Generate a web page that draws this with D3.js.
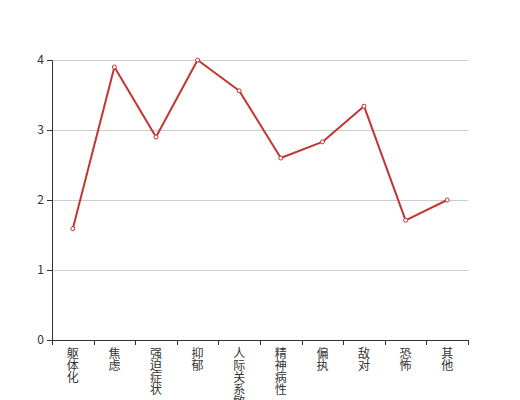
<!DOCTYPE html>
<html>
<head>
<meta charset="utf-8">
<script src="https://cdn.jsdelivr.net/npm/d3@7"></script>
<style>
  body { margin: 0; background: #fff; }
  text { font-family: "Noto Sans CJK SC", "DejaVu Sans", sans-serif; font-size: 12px; fill: #333; }
</style>
</head>
<body>
<script>
// categories and scores
var categories = ["躯体化", "焦虑", "强迫症状", "抑郁", "人际关系敏感", "精神病性", "偏执", "敌对", "恐怖", "其他"];
var scores = [1.59, 3.9, 2.9, 4.0, 3.56, 2.6, 2.83, 3.34, 1.71, 2.0];
var yTicks = [0, 1, 2, 3, 4];

var width = 520, height = 400;
var margin = { top: 60, right: 52, bottom: 60, left: 52 };

var svg = d3.select("body").append("svg")
    .attr("width", width)
    .attr("height", height);

var x = d3.scaleBand()
    .domain(categories)
    .range([margin.left, width - margin.right]);

var y = d3.scaleLinear()
    .domain([0, 4])
    .range([height - margin.bottom, margin.top]);

//grid lines
svg.append("g")
    .selectAll("line")
    .data(yTicks.filter(function (d) { return d > 0; }))
    .enter().append("line")
    .attr("x1", margin.left)
    .attr("x2", width - margin.right)
    .attr("y1", function (d) { return Math.round(y(d)) + 0.5; })
    .attr("y2", function (d) { return Math.round(y(d)) + 0.5; })
    .attr("stroke", "#ccc")
    .attr("stroke-width", 1);

//y axis
var yAxis = svg.append("g")
    .attr("transform", "translate(" + margin.left + ",0)")
    .call(d3.axisLeft(y).tickValues(yTicks).tickSize(5).tickPadding(3).tickFormat(d3.format("d")));
yAxis.selectAll("path, line").attr("stroke", "#333");
yAxis.selectAll("text").style("font-size", "12px").attr("fill", "#333");

//x axis, ticks at band boundaries
var xg = svg.append("g")
    .attr("transform", "translate(0," + (height - margin.bottom) + ")");
xg.append("line")
    .attr("x1", margin.left).attr("x2", width - margin.right)
    .attr("y1", 0.5).attr("y2", 0.5)
    .attr("stroke", "#333");
var bounds = categories.map(function (c) { return x(c); }).concat([x.range()[1]]);
xg.selectAll(".tk")
    .data(bounds)
    .enter().append("line")
    .attr("class", "tk")
    .attr("x1", function (d) { return Math.round(d) + 0.5; })
    .attr("x2", function (d) { return Math.round(d) + 0.5; })
    .attr("y1", 0).attr("y2", 5)
    .attr("stroke", "#333");

//vertical category labels, one character per line
xg.selectAll(".lbl")
    .data(categories)
    .enter().append("text")
    .attr("class", "lbl")
    .attr("text-anchor", "middle")
    .each(function (d) {
        var t = d3.select(this);
        d.split("").forEach(function (ch, i) {
            t.append("tspan")
                .attr("x", x(d) + x.bandwidth() / 2)
                .attr("y", 18 + i * 12)
                .text(ch);
        });
    });

//the line and its markers
var line = d3.line()
    .x(function (d, i) { return x(categories[i]) + x.bandwidth() / 2; })
    .y(function (d) { return y(d); });

svg.append("path")
    .datum(scores)
    .attr("d", line)
    .attr("fill", "none")
    .attr("stroke", "#c23531")
    .attr("stroke-width", 2)
    .attr("stroke-linejoin", "bevel");

svg.selectAll(".pt")
    .data(scores)
    .enter().append("circle")
    .attr("class", "pt")
    .attr("cx", function (d, i) { return x(categories[i]) + x.bandwidth() / 2; })
    .attr("cy", function (d) { return y(d); })
    .attr("r", 2)
    .attr("fill", "#fff")
    .attr("stroke", "#c23531")
    .attr("stroke-width", 1);
</script>
</body>
</html>
